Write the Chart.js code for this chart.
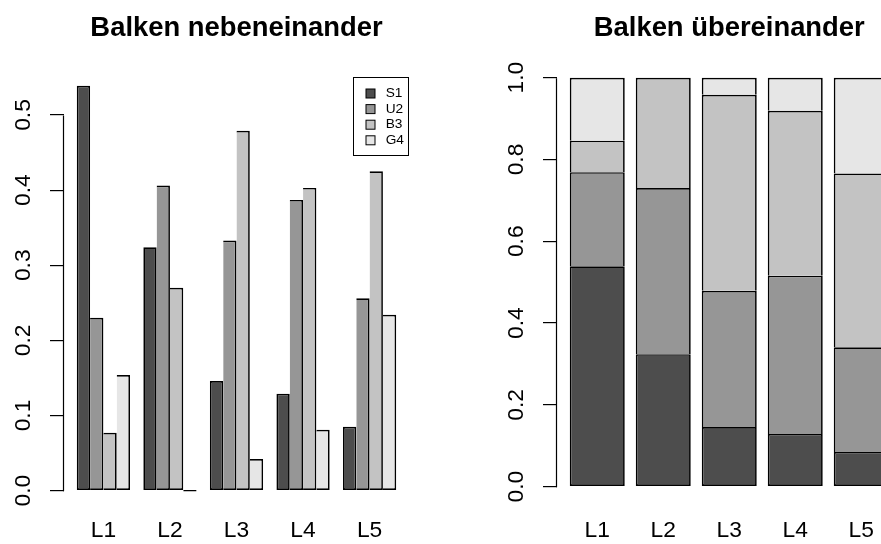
<!DOCTYPE html>
<html lang="de">
<head>
<meta charset="UTF-8">
<title>Balken</title>
<script src="https://cdn.jsdelivr.net/npm/chart.js@4.4.0/dist/chart.umd.min.js"></script>
<style>
  html, body { margin: 0; padding: 0; background: #fff; overflow: hidden; }
  #wrap { position: relative; width: 881px; height: 544px; overflow: hidden; }
  #links { position: absolute; left: 0; top: 0; }
  #rechts { position: absolute; left: 440px; top: 0; }
</style>
</head>
<body>
<div id="wrap">
  <canvas id="links" width="440" height="544"></canvas>
  <canvas id="rechts" width="470" height="544"></canvas>
</div>
<script>
// Daten
const kategorien = ['L1', 'L2', 'L3', 'L4', 'L5'];
const reihen = ['S1', 'U2', 'B3', 'G4'];
const S1 = [0.539, 0.324, 0.146, 0.129, 0.085];
const U2 = [0.230, 0.406, 0.333, 0.387, 0.256];
const B3 = [0.077, 0.270, 0.479, 0.403, 0.425];
const G4 = [0.154, 0.000, 0.042, 0.081, 0.234];
const ticksLinks = [0, 0.1, 0.2, 0.3, 0.4, 0.5];
const ticksRechts = [0, 0.2, 0.4, 0.6, 0.8, 1.0];

const werte = [S1, U2, B3, G4];
const farben = ['#4d4d4d', '#969696', '#c3c3c3', '#e6e6e6'];
const schrift = '"Liberation Sans", Arial, sans-serif';

Chart.defaults.font.family = schrift;
Chart.defaults.color = '#000';

// y-Achse wie in R: Linie nur von erstem bis letztem Tick, Beschriftung gedreht
const rAchse = {
    id: 'rAchse',
    afterDraw(chart, args, opts) {
        const ctx = chart.ctx;
        const area = chart.chartArea;
        const y = chart.scales.y;
        const t = opts.ticks;
        ctx.save();
        ctx.strokeStyle = '#000';
        ctx.lineWidth = 1.2;
        ctx.beginPath();
        ctx.moveTo(area.left - 0.5, y.getPixelForValue(t[0]) + 0.5);
        ctx.lineTo(area.left - 0.5, y.getPixelForValue(t[t.length - 1]) + 0.5);
        ctx.stroke();

        ctx.fillStyle = '#000';
        ctx.font = '22.8px ' + schrift;
        ctx.textAlign = 'center';
        ctx.textBaseline = 'middle';
        t.forEach(v => {
            ctx.save();
            ctx.translate(area.left - 40, y.getPixelForValue(v));
            ctx.rotate(-Math.PI / 2);
            ctx.fillText(v.toFixed(1), 0, 0);
            ctx.restore();
        });

        if (opts.legende) {
            const r = area.right;
            ctx.lineWidth = 1;
            ctx.strokeRect(r - 55.5, 77.5, 55, 78);
            ctx.font = '13.7px ' + schrift;
            ctx.textAlign = 'left';
            chart.data.datasets.forEach((ds, i) => {
                const cy = 93.5 + i * 15.6;
                ctx.fillStyle = ds.backgroundColor;
                ctx.fillRect(r - 43, cy - 4.5, 9, 9);
                ctx.strokeRect(r - 43, cy - 4.5, 9, 9);
                ctx.fillStyle = '#000';
                ctx.fillText(ds.label, r - 23.3, cy);
            });
        }
        ctx.restore();
    }
};

// skip: welche Kante ab der zweiten Reihe weggelassen wird (gemeinsame Kante)
function datensaetze(barPct, catPct, minLen, skip) {
    return reihen.map((name, i) => ({
        label: name,
        data: kategorien.map((k, j) => ({ x: j + 1, y: werte[i][j] })),
        backgroundColor: farben[i],
        borderColor: '#000',
        borderWidth: 1.7,
        borderSkipped: i === 0 ? false : skip,
        minBarLength: minLen,
        barPercentage: barPct,
        categoryPercentage: catPct
    }));
}

function xAchse(min, max, stacked) {
    return {
        type: 'linear',
        offset: false,
        stacked: stacked,
        min: min,
        max: max,
        grid: { display: false, drawTicks: false },
        border: { display: false },
        afterBuildTicks: s => { s.ticks = kategorien.map((k, i) => ({ value: i + 1 })); },
        afterFit: s => { s.height = 43.8; },
        ticks: {
            autoSkip: false,
            maxRotation: 0,
            padding: 16.4,
            font: { size: 22.8 },
            callback: (v, i) => kategorien[i]
        }
    };
}

function yAchse(min, max, ticks, stacked) {
    return {
        min: min,
        max: max,
        stacked: stacked,
        afterBuildTicks: s => { s.ticks = ticks.map(v => ({ value: v })); },
        grid: { drawOnChartArea: false, color: '#000', lineWidth: 1.2, tickLength: 14 },
        border: { display: false },
        ticks: { display: false }
    };
}

function titel(text) {
    return {
        display: true,
        text: text,
        fullSize: false,
        color: '#000',
        font: { size: 27.4, weight: 'bold' },
        padding: { top: 12, bottom: 16.4 }
    };
}

// Balken nebeneinander
new Chart(document.getElementById('links'), {
    type: 'bar',
    data: { datasets: datensaetze(1, 0.8, 1.5, 'left') },
    options: {
        responsive: false,
        animation: false,
        layout: { padding: { left: 50, right: 31, top: 0, bottom: 0 } },
        plugins: {
            legend: { display: false },
            tooltip: { enabled: false },
            title: titel('Balken nebeneinander'),
            rAchse: { ticks: ticksLinks, legende: true }
        },
        scales: {
            x: xAchse(0.408, 5.592, false),
            y: yAchse(-0.0127, 0.5715, ticksLinks, false)
        }
    },
    plugins: [rAchse]
});

// Balken übereinander
new Chart(document.getElementById('rechts'), {
    type: 'bar',
    data: { datasets: datensaetze(0.8333, 1, 0, 'bottom') },
    options: {
        responsive: false,
        animation: false,
        layout: { padding: { left: 103, right: 8.5, top: 0, bottom: 0 } },
        plugins: {
            legend: { display: false },
            tooltip: { enabled: false },
            title: titel('Balken übereinander'),
            rAchse: { ticks: ticksRechts, legende: false }
        },
        scales: {
            x: xAchse(0.39, 5.61, true),
            y: yAchse(-0.0331, 1.0401, ticksRechts, true)
        }
    },
    plugins: [rAchse]
});
</script>
</body>
</html>
